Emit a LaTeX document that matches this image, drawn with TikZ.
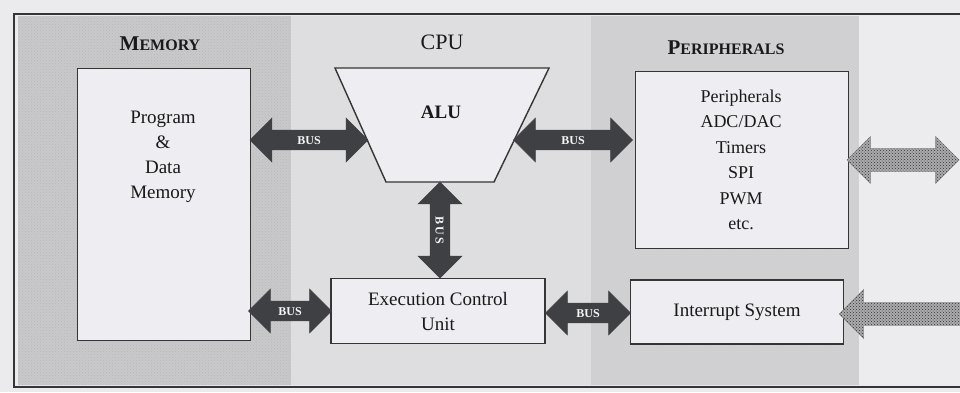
\documentclass[tikz,border=0pt]{standalone}
\usepackage{fontspec}
\setmainfont{Liberation Serif}
\usetikzlibrary{shapes.arrows,patterns,calc}
\definecolor{bgc}{HTML}{EBEAED}
\definecolor{memc}{HTML}{C9C9CB}
\definecolor{cpuc}{HTML}{DEDDE0}
\definecolor{perc}{HTML}{D0D0D2}
\definecolor{rightc}{HTML}{ECEBEE}
\definecolor{boxc}{HTML}{EEEDF1}
\definecolor{linec}{HTML}{353535}
\definecolor{busc}{HTML}{3F4043}
\definecolor{hatc}{HTML}{ABABAD}
\newcommand{\mysc}[2]{{\fontsize{21}{21}\selectfont #1}{\fontsize{16}{16}\selectfont #2}}
\begin{document}
\begin{tikzpicture}[x=1pt,y=-1pt,
  box/.style={draw=linec, line width=1.4pt, fill=boxc},
  txt/.style={font=\fontsize{19}{25}\selectfont, text=black!90, align=center},
  ttl/.style={text=black!90, font=\bfseries},
  bus/.style={double arrow, draw=busc, fill=busc, line width=0.6pt,
    double arrow head extend=12pt, double arrow tip angle=90,
    inner xsep=0pt, inner ysep=5pt, text height=9pt, text depth=0pt,
    text=white!92!gray, font=\bfseries\fontsize{12}{12}\selectfont},
  hbus/.style={draw=hatc!80!black, fill=hatc, line width=0.6pt,
    postaction={pattern=crosshatch dots, pattern color=gray!40!black},
    inner xsep=0pt, inner ysep=11pt, text height=0pt, text depth=0pt}
]
\useasboundingbox (0,0) rectangle (960,392);
\fill[bgc] (0,0) rectangle (960,392);
% panels
\fill[memc] (18,16) rectangle (291,385);
\fill[pattern=crosshatch dots, pattern color=gray!55] (18,16) rectangle (291,385);
\fill[cpuc] (291,16) rectangle (591,385);
\fill[perc] (591,16) rectangle (859,385);
\fill[pattern=crosshatch dots, pattern color=gray!35] (591,16) rectangle (859,385);
\fill[rightc] (859,16) rectangle (960,385);
% frame
\draw[linec, line width=1.6pt] (14,14) rectangle (980,387);

% titles
\node[ttl] (memt) at (160,44) {\mysc{M}{EMORY}};
\node[ttl, font=\fontsize{22}{22}\selectfont] (cput) at (442,42) {CPU};
\node[ttl] (pert) at (726,48) {\mysc{P}{ERIPHERALS}};

% boxes
\node[box, minimum width=173pt, minimum height=272pt, anchor=north west] (mem) at (77,68) {};
\node[txt, anchor=north] (memtxt) at (163,108) {Program\\\&\\Data\\Memory};

\draw[box] (335,68) -- (549,68) -- (494,182) -- (386,182) -- cycle;
\node[txt] (alu) at (441,112) {\bfseries ALU};

\node[box, minimum width=214pt, minimum height=65pt, txt] (ecu) at (438,311) {Execution Control\\Unit};

\node[box, minimum width=213pt, minimum height=177pt, anchor=north west] (per) at (635,71) {};
\node[txt, anchor=north, font=\fontsize{18}{25.5}\selectfont] (pertxt) at (741,86) {Peripherals\\ADC/DAC\\Timers\\SPI\\PWM\\etc.};

\node[box, minimum width=213pt, minimum height=64pt, txt] (irq) at (737,312) {Interrupt System};

% buses
\node[bus, minimum height=118pt] (b1) at (309,140) {BUS};
\node[bus, minimum height=119pt] (b2) at (573,140) {BUS};
\node[bus, minimum height=96pt, rotate=-90] (b3) at (440,230) {B\,U\,S};
\node[bus, minimum height=83pt] (b4) at (290,311) {BUS};
\node[bus, minimum height=85pt] (b5) at (588,313) {BUS};

% external hatched arrows
\node[hbus, double arrow, double arrow head extend=12pt, double arrow tip angle=90, minimum height=112pt] (x1) at (903,160) {};
\node[hbus, single arrow, shape border rotate=180, single arrow head extend=13pt, single arrow tip angle=90, minimum height=150pt] (x2) at (920,314) {};
\end{tikzpicture}
\end{document}
